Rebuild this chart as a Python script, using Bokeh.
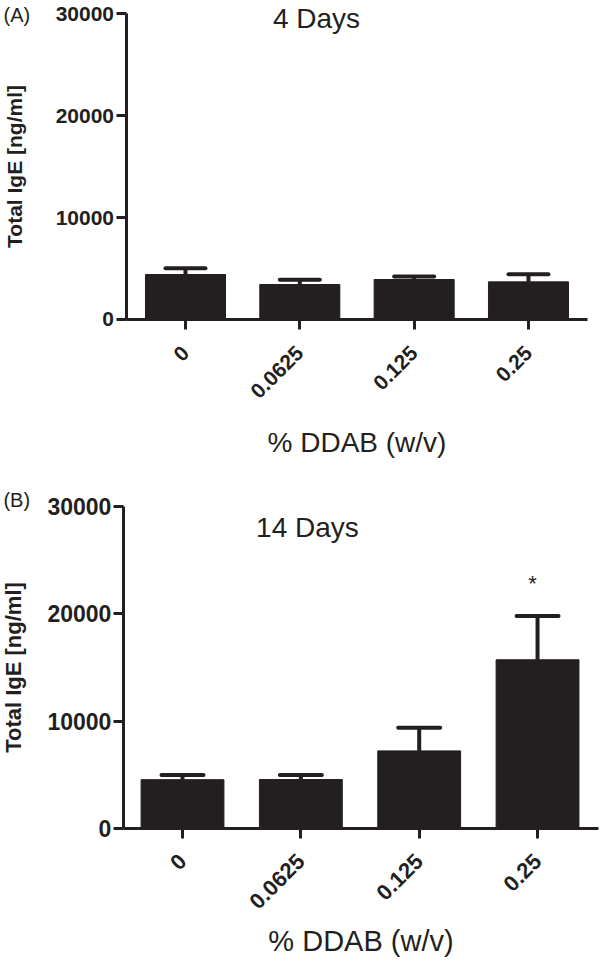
import math
from bokeh.plotting import figure
from bokeh.layouts import column
from bokeh.models import (FixedTicker, Label, Whisker, TeeHead, ColumnDataSource, Range1d)
from bokeh.embed import file_html
from bokeh.resources import INLINE
from bokeh.core.properties import value

# ---------------- data ----------------
categories = ["0", "0.0625", "0.125", "0.25"]
days4_mean = [4410, 3430, 3920, 3690]
days4_err = [620, 460, 300, 750]
days14_mean = [4550, 4560, 7230, 15720]
days14_err = [440, 430, 2150, 4080]
days14_marks = ["", "", "", "*"]
days4_marks = ["", "", "", ""]
y_ticks = [0, 10000, 20000, 30000]
y_tick_labels = ["0", "10000", "20000", "30000"]
panel_titles = ["4 Days", "14 Days"]
panel_letters = ["(A)", "(B)"]
x_title = "% DDAB (w/v)"
y_title = "Total IgE [ng/ml]"

INK = "#231f20"
FONT = "Liberation Sans"


def make_panel(means, errs, marks, title, letter, cfg):
    x = list(range(len(categories)))
    upper = [m + e for m, e in zip(means, errs)]
    src = ColumnDataSource(dict(x=x, top=means, upper=upper, marks=marks))

    p = figure(width=600, height=485, output_backend="svg", toolbar_location=None,
               x_range=Range1d(cfg["x_start"], cfg["x_end"]),
               y_range=Range1d(cfg["y_start"], cfg["y_end"]),
               min_border_left=0, min_border_right=0,
               min_border_top=0, min_border_bottom=0)
    p.background_fill_color = "white"
    p.border_fill_color = "white"
    p.outline_line_color = None
    p.xgrid.visible = False
    p.ygrid.visible = False

    p.vbar(x="x", top="top", bottom=0, width=0.7, source=src,
           fill_color=INK, line_color=INK, line_width=1)

    w = Whisker(base="x", lower="top", upper="upper", source=src,
                line_width=4, line_color=INK,
                upper_head=TeeHead(size=cfg["cap"], line_width=4, line_color=INK, line_cap="round"),
                lower_head=None, level="glyph")
    p.add_layout(w)

    p.text(x="x", y="upper", text="marks", source=src, text_align="center",
           text_baseline="middle", y_offset=cfg["star_off"], x_offset=-5, text_color=INK,
           text_font=value(FONT), text_font_size="22px")

    for ax in (p.xaxis[0], p.yaxis[0]):
        ax.axis_line_width = 3
        ax.axis_line_color = INK
        ax.major_tick_line_width = 3
        ax.major_tick_line_color = INK
        ax.major_tick_in = 0
        ax.major_tick_out = 10
        ax.minor_tick_line_color = None
        ax.major_label_text_font = FONT
        ax.major_label_text_font_style = "bold"
        ax.major_label_text_color = INK
        ax.axis_label_text_font = FONT
        ax.axis_label_text_color = INK

    xa = p.xaxis[0]
    xa.fixed_location = y_ticks[0]
    xa.bounds = (cfg["ax_x0"], cfg["ax_x1"])
    xa.ticker = FixedTicker(ticks=x)
    xa.major_label_overrides = {i: c for i, c in enumerate(categories)}
    xa.major_label_orientation = math.pi / 4
    xa.major_label_text_font_size = cfg["xtick_fs"]
    xa.major_label_standoff = cfg["xstand"]
    xa.axis_label = x_title
    xa.axis_label_text_font_style = "normal"
    xa.axis_label_text_font_size = cfg["xtitle_fs"]
    xa.axis_label_standoff = cfg["xlab_stand"]

    ya = p.yaxis[0]
    ya.fixed_location = cfg["ax_x0"]
    ya.bounds = (y_ticks[0], y_ticks[-1])
    ya.ticker = FixedTicker(ticks=y_ticks)
    ya.major_label_overrides = {t: l for t, l in zip(y_ticks, y_tick_labels)}
    ya.major_label_text_font_size = cfg["ytick_fs"]
    ya.major_label_standoff = 2
    ya.axis_label = y_title
    ya.axis_label_text_font_style = "bold"
    ya.axis_label_text_font_size = cfg["ylab_fs"]
    ya.axis_label_standoff = cfg["ylab_stand"]

    p.add_layout(Label(x=cfg["title_x"], y=cfg["title_y"], text=title, text_align="center",
                       text_baseline="middle", text_font=FONT, text_font_size="28px",
                       text_color=INK))
    p.add_layout(Label(x=cfg["letter_x"], y=cfg["letter_y"], text=letter, text_align="left",
                       text_baseline="middle", text_font=FONT, text_font_size="20px",
                       text_color=INK))
    return p


cfg_a = dict(x_start=-1.618, x_end=3.630, ax_x0=-0.52, ax_x1=3.52,
             y_start=-16275, y_end=31275, cap=40,
             star_off=-29, xtick_fs="21px", ytick_fs="21px", xtitle_fs="28px",
             xstand=20, xlab_stand=19, ylab_fs="21px", ylab_stand=27,
             title_x=1.146, title_y=29510, letter_x=-1.592, letter_y=29902)
cfg_b = dict(x_start=-1.538, x_end=3.532, ax_x0=-0.50, ax_x1=3.516,
             y_start=-13230, y_end=31957, cap=42,
             star_off=-32, xtick_fs="22px", ytick_fs="23px", xtitle_fs="29px",
             xstand=19, xlab_stand=6, ylab_fs="22px", ylab_stand=19,
             title_x=1.056, title_y=28044, letter_x=-1.513, letter_y=30560)

pa = make_panel(days4_mean, days4_err, days4_marks, panel_titles[0], panel_letters[0], cfg_a)
pb = make_panel(days14_mean, days14_err, days14_marks, panel_titles[1], panel_letters[1], cfg_b)

layout = column(pa, pb, spacing=0)
open("out.html", "w").write(file_html(layout, INLINE))
